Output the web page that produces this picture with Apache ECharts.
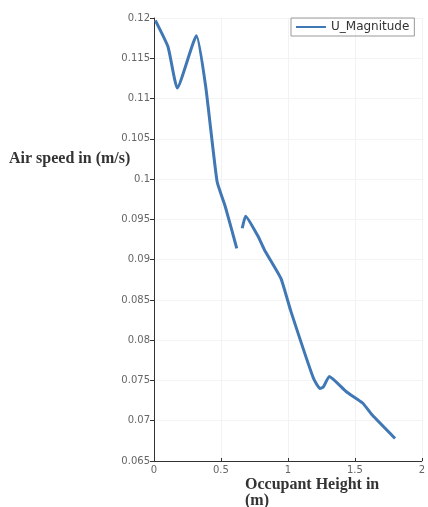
<!DOCTYPE html>
<html><head><meta charset="utf-8">
<script src="https://cdn.jsdelivr.net/npm/echarts@6/dist/echarts.min.js"></script>
<style>html,body{margin:0;padding:0;background:#fff}#c{width:428px;height:507px}</style>
</head><body><div id="c"></div>
<script>
const seriesName = 'U_Magnitude';
const heightSeg1 = [0.01, 0.105, 0.174, 0.317, 0.386, 0.471, 0.532, 0.618];
const speedSeg1 = [0.1197, 0.1164, 0.1113, 0.1178, 0.1115, 0.0997, 0.0966, 0.0914];
const heightSeg2 = [0.659, 0.684, 0.777, 0.825, 0.947, 1.02, 1.19, 1.24, 1.265, 1.309, 1.436, 1.558, 1.63, 1.80];
const speedSeg2 = [0.0939, 0.0954, 0.0929, 0.0912, 0.0877, 0.0837, 0.0753, 0.0740, 0.0742, 0.0755, 0.0736, 0.0722, 0.0707, 0.0678];
const yTitle = 'Air speed in (m/s)';
const xTitle = 'Occupant Height in\n(m)';

const data = [];
heightSeg1.forEach((h, i) => data.push([h, speedSeg1[i]]));
data.push([0.64, null]);
heightSeg2.forEach((h, i) => data.push([h, speedSeg2[i]]));

const chart = echarts.init(document.getElementById('c'), null, {renderer: 'canvas'});
const tickFont = {fontFamily: 'DejaVu Sans', fontSize: 10, color: '#666'};
chart.setOption({
  animation: false,
  backgroundColor: '#fff',
  grid: {left: 154, right: 1, top: 18, bottom: 46, containLabel: false},
  legend: {
    data: [{name: seriesName, icon: 'rect'}], left: 291, top: 18, orient: 'vertical',
    borderColor: '#999', borderWidth: 1, padding: [3, 5, 3, 5],
    itemWidth: 30, itemHeight: 2, itemGap: 4,
    textStyle: {fontFamily: 'DejaVu Sans', fontSize: 12, color: '#333', padding: [0, 0, 0, 0]}
  },
  xAxis: {
    type: 'value', min: 0, max: 2, interval: 0.5,
    axisLine: {show: true, onZero: false, lineStyle: {color: '#333', width: 1}},
    axisTick: {show: true, inside: true, length: 3, lineStyle: {color: '#333'}},
    axisLabel: Object.assign({margin: 4, formatter: v => String(v)}, tickFont),
    splitLine: {show: true, lineStyle: {color: '#f2f2f2'}}
  },
  yAxis: {
    type: 'value', min: 0.065, max: 0.12, interval: 0.005,
    axisLine: {show: true, onZero: false, lineStyle: {color: '#333', width: 1}},
    axisTick: {show: true, length: 4, lineStyle: {color: '#333'}},
    axisLabel: Object.assign({margin: 4, formatter: v => String(parseFloat(v.toFixed(3)))}, tickFont),
    splitLine: {show: true, lineStyle: {color: '#f4f4f4'}}
  },
  graphic: [
    {type: 'text', left: 9, top: 151, style: {text: yTitle, font: 'bold 16px "Liberation Serif"', fill: '#333'}},
    {type: 'text', left: 245, top: 477, style: {text: xTitle, font: 'bold 16px "Liberation Serif"', fill: '#333', lineHeight: 16}}
  ],
  series: [{
    name: seriesName, type: 'line', data: data, connectNulls: false,
    symbol: 'none', smooth: 0.15,
    lineStyle: {color: '#3f78b4', width: 3},
    itemStyle: {color: '#3f78b4'}
  }]
});
</script></body></html>
